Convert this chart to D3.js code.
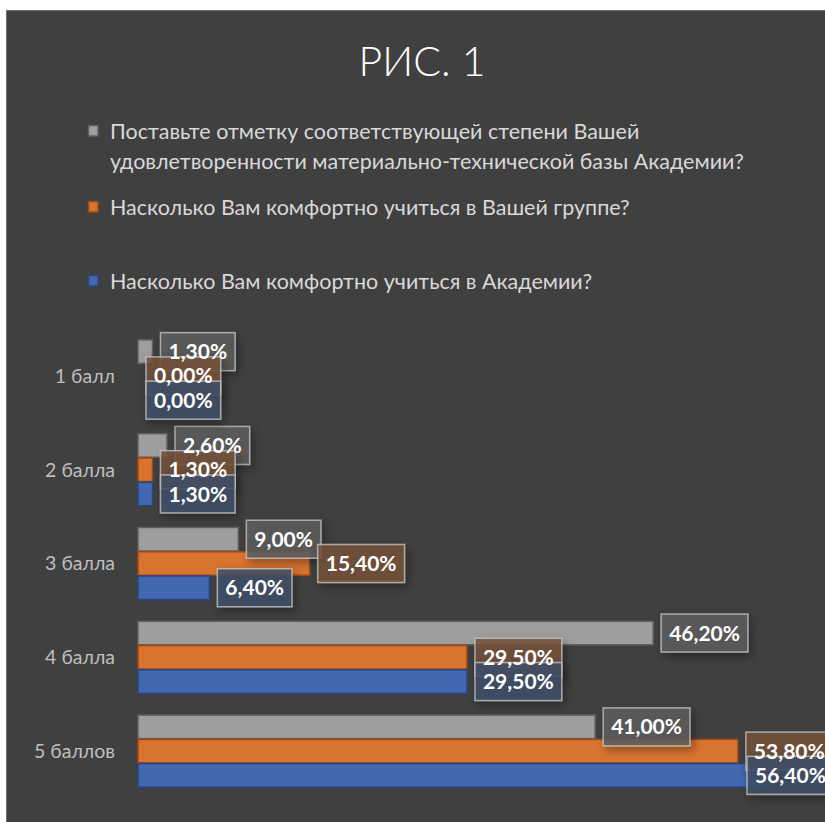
<!DOCTYPE html>
<html>
<head>
<meta charset="utf-8">
<script src="https://cdn.jsdelivr.net/npm/d3@7"></script>
<style>
  body { margin: 0; background: #fff; }
  svg { display: block; font-family: Lato, "Noto Sans", sans-serif; }
</style>
</head>
<body>
<svg width="825" height="822"></svg>
<script>
var categories = ["1 балл", "2 балла", "3 балла", "4 балла", "5 баллов"];
var seriesNames = [
  "Поставьте отметку соответствующей степени Вашей|удовлетворенности материально-технической базы Академии?",
  "Насколько Вам комфортно учиться в Вашей группе?",
  "Насколько Вам комфортно учиться в Академии?"
];
var baseValues = [1.3, 2.6, 9.0, 46.2, 41.0];
var groupValues = [0.0, 1.3, 15.4, 29.5, 53.8];
var academyValues = [0.0, 1.3, 6.4, 29.5, 56.4];

var fills = ["#9e9e9e", "#d8742f", "#4268b2"];
var strokes = ["#5f5f5f", "#9a4a15", "#2a4580"];
var boxFills = ["#5e5e5e", "#74523b", "#414f68"];

var series = [baseValues, groupValues, academyValues].map(function(vals, i) {
  return {key: i, name: seriesNames[i], values: vals.map(function(v, j) {
    return {cat: categories[j], value: v, s: i};
  })};
});

var svg = d3.select("svg");

var defs = svg.append("defs");
var f = defs.append("filter").attr("id", "shadow")
    .attr("x", "-30%").attr("y", "-30%").attr("width", "170%").attr("height", "190%");
f.append("feDropShadow").attr("dx", 3).attr("dy", 4).attr("stdDeviation", 5)
    .attr("flood-color", "#000").attr("flood-opacity", 0.4);

// chart area
svg.append("rect")
    .attr("x", 6.5).attr("y", 10.5)
    .attr("width", 830).attr("height", 830)
    .attr("fill", "#404040")
    .attr("stroke", "#707070");

svg.append("text")
    .attr("x", 422).attr("y", 76)
    .attr("text-anchor", "middle")
    .attr("fill", "#ffffff")
    .attr("font-size", 41)
    .attr("font-weight", 300)
    .text("РИС. 1");

// legend
var legendY = [131, 207, 281];
var legend = svg.append("g");
series.forEach(function(s, i) {
  var g = legend.append("g").attr("transform", "translate(0," + legendY[i] + ")");
  g.append("rect")
      .attr("x", 88.5).attr("y", -5.5).attr("width", 9.5).attr("height", 10.5)
      .attr("fill", fills[i]).attr("stroke", strokes[i]).attr("stroke-width", 1.5);
  var lines = s.name.split("|");
  lines.forEach(function(l, k) {
    g.append("text")
        .attr("x", 110).attr("y", 7.5 + k * 30)
        .attr("fill", "#d9d9d9")
        .attr("font-size", 21.5)
        .text(l);
  });
});

var x = d3.scaleLinear().domain([0, 60]).range([138, 807]);

var y = d3.scaleBand()
    .domain(categories)
    .range([329, 798])
    .paddingInner(0.232)
    .paddingOuter(0.116);

var ys = d3.scaleBand()
    .domain([0, 1, 2])
    .range([0, y.bandwidth()])
    .paddingInner(0.03);

// category labels
svg.append("g").selectAll("text")
    .data(categories)
  .enter().append("text")
    .attr("x", 115)
    .attr("y", function(d) { return y(d) + y.bandwidth() / 2; })
    .attr("dy", "0.35em")
    .attr("text-anchor", "end")
    .attr("fill", "#bfbfbf")
    .attr("font-size", 19.5)
    .text(function(d) { return d; });

// bars
var groups = svg.append("g").selectAll("g")
    .data(series)
  .enter().append("g");

groups.selectAll("rect")
    .data(function(d) { return d.values; })
  .enter().append("rect")
    .attr("x", x(0))
    .attr("y", function(d) { return y(d.cat) + ys(d.s); })
    .attr("width", function(d) { return x(d.value) - x(0); })
    .attr("height", ys.bandwidth())
    .attr("fill", function(d) { return fills[d.s]; })
    .attr("stroke", function(d) { return strokes[d.s]; })
    .attr("stroke-width", function(d) { return d.value > 0 ? 1.5 : 0; });

// data labels: boxes first, texts on top
var all = [];
series.forEach(function(s) { all = all.concat(s.values); });

var boxLayer = svg.append("g");
var textLayer = svg.append("g");

all.forEach(function(d) {
  var cy = y(d.cat) + ys(d.s) + ys.bandwidth() / 2;
  var t = textLayer.append("text")
      .attr("y", cy)
      .attr("dy", "0.36em")
      .attr("fill", "#ffffff")
      .attr("font-size", 21)
      .attr("font-weight", 700)
      .text(d.value.toFixed(2).replace(".", ",") + "%");
  var w = t.node().getComputedTextLength();
  var x0 = Math.min(x(d.value) + 8, 747);
  t.attr("x", x0 + 8);
  boxLayer.append("rect")
      .attr("x", x0).attr("y", cy - 19)
      .attr("width", w + 16).attr("height", 38)
      .attr("fill", boxFills[d.s])
      .attr("fill-opacity", 0.85)
      .attr("stroke", "#c8c8c8")
      .attr("stroke-opacity", 0.75)
      .attr("stroke-width", 1.5)
      .attr("filter", "url(#shadow)");
});
</script>
</body>
</html>
